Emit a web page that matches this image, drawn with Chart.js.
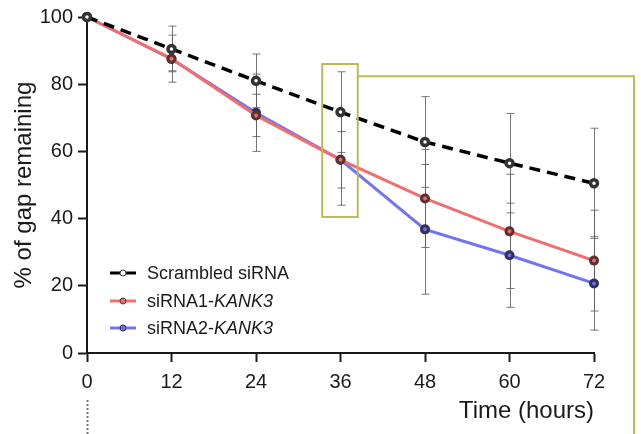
<!DOCTYPE html>
<html lang="en">
<head>
    <meta charset="UTF-8">
    <title>Gap closure over time</title>
    <script src="https://cdn.jsdelivr.net/npm/chart.js"></script>
    <style>
        body {
            margin: 0;
            background-color: #ffffff;
        }
        .container {
            width: 641px;
            height: 434px;
        }
    </style>
</head>
<body>
    <div class="container">
        <canvas id="gapChart" width="641" height="434"></canvas>
    </div>
    <script>
        // Time points (hours) and tick labels
        const hours = [0, 12, 24, 36, 48, 60, 72];
        const xTicks = [0, 12, 24, 36, 48, 60, 72];
        const yTicks = [0, 20, 40, 60, 80, 100];

        // Mean % of gap remaining
        const scrambled = [100, 90.5, 81, 71.7, 62.8, 56.5, 50.5];
        const sirna1 = [100, 87.6, 70.7, 57.5, 46, 36.2, 27.5];
        const sirna2 = [100, 87.5, 71.5, 57.5, 36.8, 29.1, 20.7];

        // Standard deviations
        const scrambledSd = [0, 6.8, 8, 12, 13.5, 14.8, 16.4];
        const sirna1Sd = [0, 7, 6.3, 8.4, 14.6, 17, 15];
        const sirna2Sd = [0, 3.5, 11.5, 13.5, 19.3, 15.5, 13.9];

        // Legend names (plain part, italic part)
        const seriesNames = [
            ['Scrambled siRNA', ''],
            ['siRNA1-', 'KANK3'],
            ['siRNA2-', 'KANK3']
        ];

        // Highlight box around the 36 h time point (data units)
        const zoomBox = { xMin: 33.4, xMax: 38.45, yMin: 40.5, yMax: 86, linkY: 82.4 };

        const FONT = "'Liberation Sans', Arial, sans-serif";

        function toPoints(values) {
            return hours.map((h, i) => ({ x: h, y: values[i] }));
        }

        // Vertical error bars with caps, drawn under the lines
        const errorBars = {
            id: 'errorBars',
            beforeDatasetsDraw(chart) {
                const ctx = chart.ctx;
                const xs = chart.scales.x;
                const ys = chart.scales.y;
                const sds = [scrambledSd, sirna1Sd, sirna2Sd];
                ctx.save();
                ctx.strokeStyle = 'rgba(95, 95, 95, 0.85)';
                ctx.lineWidth = 1;
                chart.data.datasets.forEach((ds, d) => {
                    ds.data.forEach((p, i) => {
                        const sd = sds[d][i];
                        if (!sd) return;
                        const x = Math.round(xs.getPixelForValue(p.x)) + 0.5;
                        const top = ys.getPixelForValue(p.y + sd);
                        const bot = ys.getPixelForValue(p.y - sd);
                        ctx.beginPath();
                        ctx.moveTo(x, top);
                        ctx.lineTo(x, bot);
                        ctx.moveTo(x - 4, top);
                        ctx.lineTo(x + 4, top);
                        ctx.moveTo(x - 4, bot);
                        ctx.lineTo(x + 4, bot);
                        ctx.stroke();
                    });
                });
                ctx.restore();
            }
        };

        // Box, connector, dotted guide and the legend
        const extras = {
            id: 'extras',
            afterDraw(chart) {
                const ctx = chart.ctx;
                const xs = chart.scales.x;
                const ys = chart.scales.y;
                const area = chart.chartArea;
                ctx.save();

                // olive box and its connector to the right edge
                const bx1 = xs.getPixelForValue(zoomBox.xMin);
                const bx2 = xs.getPixelForValue(zoomBox.xMax);
                const by1 = ys.getPixelForValue(zoomBox.yMax);
                const by2 = ys.getPixelForValue(zoomBox.yMin);
                const ly = ys.getPixelForValue(zoomBox.linkY);
                ctx.strokeStyle = '#bdb85a';
                ctx.lineWidth = 2;
                ctx.strokeRect(bx1, by1, bx2 - bx1, by2 - by1);
                ctx.beginPath();
                ctx.moveTo(bx2, ly);
                ctx.lineTo(chart.width - 7, ly);
                ctx.lineTo(chart.width - 7, chart.height);
                ctx.stroke();

                // dotted guide below time zero
                const x0 = Math.round(xs.getPixelForValue(0)) + 0.5;
                ctx.strokeStyle = '#777777';
                ctx.lineWidth = 2;
                ctx.setLineDash([2, 2]);
                ctx.beginPath();
                ctx.moveTo(x0, area.bottom + 47);
                ctx.lineTo(x0, chart.height);
                ctx.stroke();
                ctx.setLineDash([]);

                // legend
                const lx = area.left + 23;
                const rows = [273, 301, 328];
                chart.data.datasets.forEach((ds, i) => {
                    const y = rows[i];
                    ctx.strokeStyle = ds.borderColor;
                    ctx.lineWidth = 3;
                    ctx.beginPath();
                    ctx.moveTo(lx, y);
                    ctx.lineTo(lx + 26, y);
                    ctx.stroke();
                    ctx.beginPath();
                    ctx.arc(lx + 13, y, 3, 0, Math.PI * 2);
                    ctx.fillStyle = ds.pointBackgroundColor;
                    ctx.fill();
                    ctx.lineWidth = 1;
                    ctx.strokeStyle = ds.pointBorderColor;
                    ctx.stroke();

                    ctx.fillStyle = '#1a1a1a';
                    ctx.textBaseline = 'middle';
                    ctx.textAlign = 'left';
                    ctx.font = '18px ' + FONT;
                    const tx = lx + 37;
                    ctx.fillText(seriesNames[i][0], tx, y + 1);
                    if (seriesNames[i][1]) {
                        const w = ctx.measureText(seriesNames[i][0]).width;
                        ctx.font = 'italic 18px ' + FONT;
                        ctx.fillText(seriesNames[i][1], tx + w, y + 1);
                    }
                });
                ctx.restore();
            }
        };

        const ctxGap = document.getElementById('gapChart').getContext('2d');
        const gapChart = new Chart(ctxGap, {
            type: 'line',
            data: {
                datasets: [
                    {
                        label: 'Scrambled siRNA',
                        data: toPoints(scrambled),
                        borderColor: '#000000',
                        borderWidth: 3.5,
                        borderDash: [11, 7],
                        pointBackgroundColor: '#ffffff',
                        pointBorderColor: '#333333',
                        order: 1
                    },
                    {
                        label: 'siRNA1-KANK3',
                        data: toPoints(sirna1),
                        borderColor: '#ef6e6e',
                        borderWidth: 3,
                        pointBackgroundColor: '#e27070',
                        pointBorderColor: '#5a3030',
                        order: 2
                    },
                    {
                        label: 'siRNA2-KANK3',
                        data: toPoints(sirna2),
                        borderColor: '#7474ee',
                        borderWidth: 3,
                        pointBackgroundColor: '#7070d8',
                        pointBorderColor: '#30305a',
                        order: 3
                    }
                ]
            },
            options: {
                responsive: false,
                animation: false,
                layout: { padding: { top: 15, right: 47, left: 0, bottom: 0 } },
                elements: {
                    line: { tension: 0 },
                    point: { radius: 3.5, borderWidth: 1 }
                },
                datasets: { line: { clip: false } },
                plugins: {
                    legend: { display: false },
                    tooltip: { enabled: false }
                },
                scales: {
                    x: {
                        type: 'linear',
                        min: 0,
                        max: 72,
                        afterFit(scale) { scale.height = 81; },
                        afterBuildTicks(scale) { scale.ticks = xTicks.map(v => ({ value: v })); },
                        grid: {
                            drawOnChartArea: false,
                            tickLength: 9,
                            tickWidth: 2,
                            tickColor: '#1a1a1a'
                        },
                        border: { color: '#1a1a1a', width: 2 },
                        ticks: {
                            padding: 8,
                            color: '#1a1a1a',
                            font: { family: FONT, size: 20 },
                            maxRotation: 0
                        },
                        title: {
                            display: true,
                            text: 'Time (hours)',
                            align: 'end',
                            color: '#1a1a1a',
                            font: { family: FONT, size: 24 },
                            padding: { top: 0, bottom: 8 }
                        }
                    },
                    y: {
                        min: 0,
                        max: 100,
                        afterFit(scale) { scale.width = 87; },
                        afterBuildTicks(scale) { scale.ticks = yTicks.map(v => ({ value: v })); },
                        grid: {
                            drawOnChartArea: false,
                            tickLength: 9,
                            tickWidth: 2,
                            tickColor: '#1a1a1a'
                        },
                        border: { color: '#1a1a1a', width: 2 },
                        ticks: {
                            padding: 5,
                            color: '#1a1a1a',
                            font: { family: FONT, size: 20 }
                        },
                        title: {
                            display: true,
                            text: '% of gap remaining',
                            color: '#1a1a1a',
                            font: { family: FONT, size: 24 },
                            padding: { top: 10, bottom: 0 }
                        }
                    }
                }
            },
            plugins: [errorBars, extras]
        });
    </script>
</body>
</html>
